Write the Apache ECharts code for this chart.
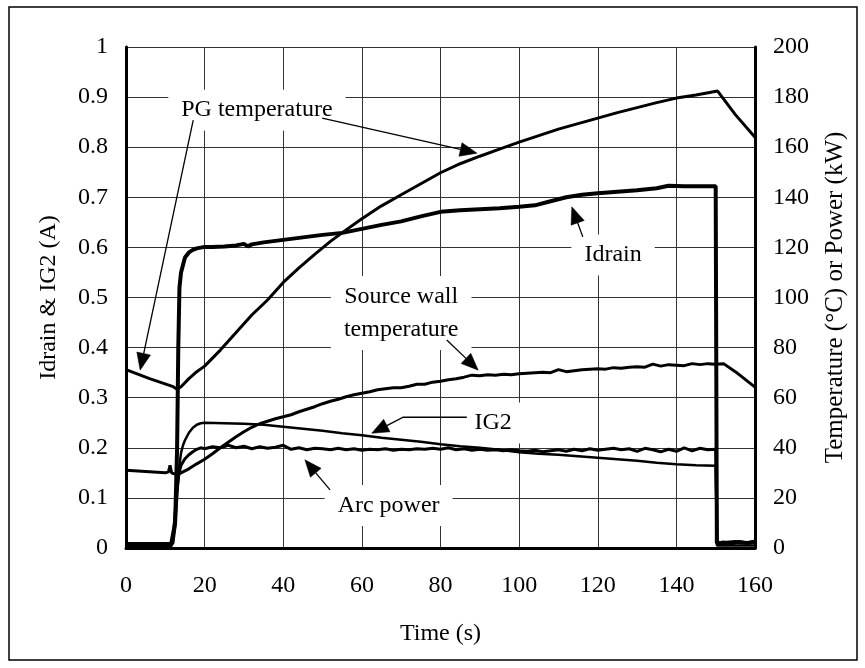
<!DOCTYPE html>
<html><head><meta charset="utf-8">
<script src="https://cdn.jsdelivr.net/npm/echarts@6/dist/echarts.min.js"></script>
<style>html,body{margin:0;padding:0;background:#fff}#c{width:865px;height:668px}</style>
</head><body><div id="c"></div>
<script>
const FONT = '"Liberation Serif","Times New Roman",serif';

// ---- Data (time in s) ----
// PG temperature (°C, right axis)
const pgTime = [0, 3, 6, 9, 12, 13, 14, 16, 18, 20, 24, 28, 32, 36, 40, 44, 48, 52, 56, 60, 65, 70, 75, 80, 85, 90, 95, 100, 105, 110, 115, 120, 125, 130, 135, 140, 145, 150.5, 155, 160];
const pgTemp = [71.2, 69.4, 67.6, 66, 64.4, 63.4, 64.4, 67.6, 70.4, 72.6, 79, 86, 93, 99, 106, 111.8, 117.2, 122.4, 127, 131.4, 136.6, 141, 145.4, 149.8, 153.4, 156.4, 159.2, 162, 164.6, 167.2, 169.4, 171.6, 173.8, 175.8, 177.8, 179.6, 180.8, 182.4, 173, 164];

// Idrain (A, left axis)
const idTime = [0, 11.5, 12, 12.5, 13, 13.3, 13.6, 14, 14.5, 15, 16, 17, 18, 20, 22, 25, 28, 30, 31, 32, 35, 40, 45, 50, 55, 60, 65, 70, 75, 80, 85, 90, 95, 100, 104, 108, 112, 116, 120, 125, 130, 135, 138, 142, 146, 150, 150.3, 152, 155, 158, 160];
const idrain = [0.008, 0.008, 0.01, 0.05, 0.2, 0.4, 0.52, 0.55, 0.565, 0.58, 0.59, 0.595, 0.598, 0.601, 0.601, 0.602, 0.604, 0.607, 0.602, 0.606, 0.61, 0.615, 0.62, 0.625, 0.629, 0.637, 0.645, 0.652, 0.662, 0.671, 0.674, 0.676, 0.678, 0.681, 0.684, 0.692, 0.70, 0.705, 0.708, 0.711, 0.714, 0.718, 0.723, 0.722, 0.722, 0.722, 0.01, 0.01, 0.012, 0.01, 0.012];

// IG2 (A, left axis)
const igTime = [0, 11.5, 12, 12.5, 13, 13.5, 14, 14.5, 15, 16, 17, 18, 19, 20, 25, 30, 35, 40, 45, 50, 55, 60, 65, 70, 75, 80, 85, 90, 95, 100, 105, 110, 115, 120, 125, 130, 135, 140, 145, 150, 150.3, 151, 160];
const ig2 = [0.005, 0.005, 0.01, 0.04, 0.1, 0.16, 0.19, 0.205, 0.215, 0.23, 0.24, 0.246, 0.249, 0.25, 0.249, 0.248, 0.246, 0.242, 0.238, 0.234, 0.229, 0.225, 0.22, 0.216, 0.212, 0.207, 0.203, 0.2, 0.196, 0.191, 0.188, 0.186, 0.183, 0.18, 0.177, 0.174, 0.17, 0.167, 0.165, 0.164, 0.005, 0.005, 0.005];

// Arc power (kW, right axis)
const arcTime = [0, 11.5, 12, 12.5, 13, 13.5, 14, 15, 16, 17, 18, 19, 20, 22, 24, 26, 28, 30, 32, 34, 36, 38, 40, 42, 44, 46, 48, 50, 52, 54, 56, 58, 60, 62, 64, 66, 68, 70, 72, 74, 76, 78, 80, 82, 84, 86, 88, 90, 92, 94, 96, 98, 100, 102, 104, 106, 108, 110, 112, 114, 116, 118, 120, 122, 124, 126, 128, 130, 132, 134, 136, 138, 140, 142, 144, 146, 148, 150, 150.4, 152, 154, 156, 158, 160];
const arcPower = [0.8, 0.8, 4, 14, 24, 30, 33, 35.6, 37.2, 38.4, 39.4, 40, 39.6, 40.4, 40, 41, 40, 40.6, 39.6, 40.4, 39.8, 40.2, 41, 39.4, 40, 39.2, 39.8, 39.6, 39.2, 39.8, 39.2, 39.6, 39, 39.4, 39.2, 39.6, 39, 39.4, 39.2, 39.6, 39.4, 39.8, 39.4, 40, 39.2, 39.6, 39, 39.4, 39, 39.2, 38.8, 39.2, 38.8, 38.6, 39, 38.4, 38.8, 39.2, 38.6, 39.4, 38.8, 39.6, 39, 39.4, 39.8, 39.2, 39.6, 38.6, 39.8, 39.2, 38.4, 39.4, 38.6, 40, 38.8, 39.8, 39.2, 39.4, 2, 2.4, 1.6, 2.6, 2, 2.8];

// Source wall temperature (°C, right axis)
const swTime = [0, 2, 4, 6, 8, 10, 10.8, 11.2, 11.6, 12, 13, 14, 16, 18, 20, 22, 24, 26, 28, 30, 32, 34, 36, 38, 40, 42, 44, 46, 48, 50, 52, 54, 56, 58, 60, 62, 64, 66, 68, 70, 72, 74, 76, 78, 80, 82, 84, 86, 88, 90, 92, 94, 96, 98, 100, 102, 104, 106, 108, 110, 112, 114, 116, 118, 120, 122, 124, 126, 128, 130, 132, 134, 136, 138, 140, 142, 144, 146, 148, 150, 152, 155, 160];
const swTemp = [31, 30.8, 30.6, 30.4, 30.2, 30, 30.4, 33, 30, 29.6, 29.2, 30, 31.6, 33.6, 35.4, 37.6, 40, 42.2, 44.4, 46.4, 48.2, 49.6, 50.6, 51.6, 52.4, 53.2, 54.4, 55.4, 56.4, 57.6, 58.6, 59.4, 60.4, 61.2, 61.8, 62.4, 63.2, 63.6, 64, 64, 64.6, 65.4, 65.4, 66.2, 66.6, 67.2, 67.6, 68.2, 69, 68.8, 69.2, 69, 69.4, 69.2, 69.6, 69.8, 70, 70.2, 70, 71.2, 70.4, 70.8, 71.2, 71.4, 71.6, 71.4, 72, 71.8, 72.2, 72.4, 72.2, 73.4, 72.6, 73.2, 73, 72.8, 73.6, 73.2, 73.6, 73.4, 73.6, 70.4, 64.2];

// Annotations (data units: time, left-axis value)
const labels = [
  {text: 'PG temperature', t: 33.3, v: 0.874},
  {text: 'Idrain', t: 123.9, v: 0.585},
  {text: 'Source wall\ntemperature', t: 70, v: 0.469},
  {text: 'IG2', t: 93.4, v: 0.2495},
  {text: 'Arc power', t: 66.8, v: 0.085}
];
const leaders = [
  [[17.1, 0.854], [3.6, 0.355]],
  [[49.9, 0.858], [89.3, 0.788]],
  [[116.2, 0.621], [113.4, 0.681]],
  [[81.6, 0.415], [89.6, 0.355]],
  [[86.7, 0.261], [70.5, 0.261], [62.5, 0.229]],
  [[51.9, 0.116], [45.5, 0.176]]
];

function pairs(t, v) { return t.map((x, i) => [x, v[i]]); }

const chart = echarts.init(document.getElementById('c'), null, {renderer: 'canvas'});
const FS = 24;
const txt = {color: '#000', fontFamily: FONT, fontSize: FS};
const line = (name, data, yi, w) => ({
  name, type: 'line', data, yAxisIndex: yi, showSymbol: false, symbol: 'none',
  lineStyle: {color: '#000', width: w}, z: 3, silent: true
});

chart.setOption({
  animation: false,
  backgroundColor: '#fff',
  grid: {left: 126, right: 110, top: 47, bottom: 120},
  xAxis: {
    type: 'value', min: 0, max: 160, interval: 20,
    name: 'Time (s)', nameLocation: 'middle', nameGap: 74, nameTextStyle: txt,
    axisLine: {onZero: false, lineStyle: {color: '#000', width: 3}},
    axisTick: {show: false},
    axisLabel: Object.assign({margin: 26}, txt),
    splitLine: {lineStyle: {color: '#333', width: 1}}
  },
  yAxis: [
    {
      type: 'value', min: 0, max: 1, interval: 0.1, position: 'left',
      name: 'Idrain & IG2 (A)', nameLocation: 'middle', nameGap: 65, nameRotate: 90, nameTextStyle: txt,
      axisLine: {show: true, onZero: false, lineStyle: {color: '#000', width: 3}},
      axisTick: {show: false},
      axisLabel: Object.assign({margin: 18}, txt),
      splitLine: {lineStyle: {color: '#333', width: 1}}
    },
    {
      type: 'value', min: 0, max: 200, interval: 20, position: 'right',
      name: 'Temperature (°C) or Power (kW)', nameLocation: 'middle', nameGap: 68, nameRotate: 90,
      nameTextStyle: {color: '#000', fontFamily: FONT, fontSize: 25},
      axisLine: {show: true, onZero: false, lineStyle: {color: '#000', width: 3}},
      axisTick: {show: false},
      axisLabel: Object.assign({margin: 18}, txt),
      splitLine: {show: false}
    }
  ],
  series: [
    line('PG temperature', pairs(pgTime, pgTemp), 1, 3),
    line('Source wall temperature', pairs(swTime, swTemp), 1, 3),
    line('Arc power', pairs(arcTime, arcPower), 1, 3),
    line('IG2', pairs(igTime, ig2), 0, 2.5),
    line('Idrain', pairs(idTime, idrain), 0, 4)
  ]
});

function px(p) { return chart.convertToPixel({xAxisIndex: 0, yAxisIndex: 0}, p); }

const graphics = [{
  type: 'rect', shape: {x: 9, y: 7, width: 848, height: 653},
  style: {fill: 'none', stroke: '#000', lineWidth: 1.5}, z: 10, silent: true
}];

labels.forEach(l => {
  const p = px([l.t, l.v]);
  graphics.push({
    type: 'text', x: p[0], y: p[1], z: 1, silent: true,
    style: {
      text: l.text, font: FS + 'px ' + FONT, fill: '#000',
      align: 'center', verticalAlign: 'middle', lineHeight: 33,
      backgroundColor: '#fff', padding: [4, 13]
    }
  });
});

leaders.forEach(ld => {
  const pts = ld.map(px);
  const tip = pts[pts.length - 1], from = pts[pts.length - 2];
  let dx = tip[0] - from[0], dy = tip[1] - from[1];
  const L = Math.hypot(dx, dy); dx /= L; dy /= L;
  const len = 17, half = 7;
  const base = [tip[0] - dx * len, tip[1] - dy * len];
  const linePts = pts.slice(0, -1).concat([base]);
  graphics.push({
    type: 'polyline', shape: {points: linePts}, z: 4, silent: true,
    style: {stroke: '#000', lineWidth: 1.3, fill: 'none'}
  });
  graphics.push({
    type: 'polygon', z: 4, silent: true,
    shape: {points: [tip, [base[0] - dy * half, base[1] + dx * half], [base[0] + dy * half, base[1] - dx * half]]},
    style: {fill: '#000', stroke: '#000', lineWidth: 0.5}
  });
});

chart.setOption({graphic: graphics});
</script>
</body></html>
